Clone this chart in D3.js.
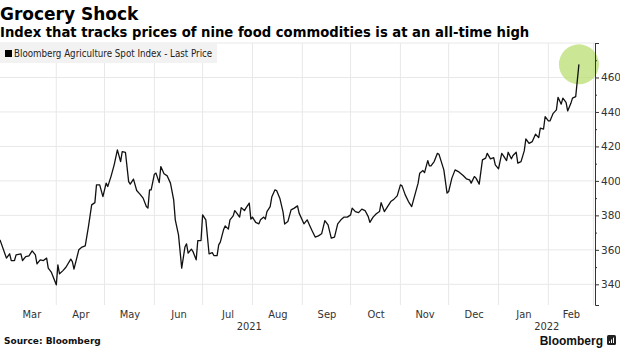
<!DOCTYPE html>
<html>
<head>
<meta charset="utf-8">
<script src="https://cdn.jsdelivr.net/npm/d3@7"></script>
<style>
  body { margin: 0; background: #fff; }
  svg { display: block; }
  .title { font-family: 'DejaVu Sans', sans-serif; font-weight: bold; fill: #000; }
  .axis text { font-family: 'DejaVu Sans Condensed', 'DejaVu Sans', sans-serif; fill: #333; }
  .grid line { stroke: #e8e8e8; stroke-width: 1; }
</style>
</head>
<body>
<div id="chart"></div>
<script>
// Bloomberg Agriculture Spot Index, last price
const dates = [
  '2021-02-25', '2021-03-01', '2021-03-03', '2021-03-04', '2021-03-06', '2021-03-07', '2021-03-10', '2021-03-11',
  '2021-03-13', '2021-03-15', '2021-03-17', '2021-03-19', '2021-03-20', '2021-03-22', '2021-03-24', '2021-03-26',
  '2021-03-27', '2021-03-29', '2021-04-01', '2021-04-02', '2021-04-03', '2021-04-05', '2021-04-07', '2021-04-10',
  '2021-04-11', '2021-04-12', '2021-04-15', '2021-04-17', '2021-04-19', '2021-04-21', '2021-04-23', '2021-04-25',
  '2021-04-26', '2021-04-28', '2021-04-30', '2021-05-02', '2021-05-03', '2021-05-05', '2021-05-07', '2021-05-09',
  '2021-05-11', '2021-05-12', '2021-05-14', '2021-05-16', '2021-05-17', '2021-05-19', '2021-05-21', '2021-05-23',
  '2021-05-25', '2021-05-27', '2021-05-28', '2021-05-29', '2021-05-30', '2021-06-01', '2021-06-02', '2021-06-04',
  '2021-06-05', '2021-06-07', '2021-06-09', '2021-06-11', '2021-06-13', '2021-06-14', '2021-06-16', '2021-06-18',
  '2021-06-20', '2021-06-21', '2021-06-22', '2021-06-24', '2021-06-25', '2021-06-27', '2021-06-28', '2021-06-30',
  '2021-07-01', '2021-07-03', '2021-07-05', '2021-07-07', '2021-07-08', '2021-07-10', '2021-07-11', '2021-07-12',
  '2021-07-14', '2021-07-15', '2021-07-17', '2021-07-18', '2021-07-20', '2021-07-21', '2021-07-22', '2021-07-24',
  '2021-07-25', '2021-07-27', '2021-07-28', '2021-07-30', '2021-07-31', '2021-08-01', '2021-08-03', '2021-08-05',
  '2021-08-06', '2021-08-08', '2021-08-09', '2021-08-10', '2021-08-12', '2021-08-13', '2021-08-15', '2021-08-16',
  '2021-08-18', '2021-08-20', '2021-08-21', '2021-08-23', '2021-08-25', '2021-08-27', '2021-08-29', '2021-08-30',
  '2021-09-02', '2021-09-04', '2021-09-06', '2021-09-07', '2021-09-09', '2021-09-11', '2021-09-13', '2021-09-15',
  '2021-09-17', '2021-09-19', '2021-09-21', '2021-09-23', '2021-09-25', '2021-09-27', '2021-09-29', '2021-10-01',
  '2021-10-02', '2021-10-04', '2021-10-06', '2021-10-08', '2021-10-10', '2021-10-12', '2021-10-13', '2021-10-15',
  '2021-10-17', '2021-10-19', '2021-10-20', '2021-10-22', '2021-10-24', '2021-10-26', '2021-10-28', '2021-10-30',
  '2021-11-01', '2021-11-02', '2021-11-04', '2021-11-06', '2021-11-08', '2021-11-10', '2021-11-12', '2021-11-13',
  '2021-11-15', '2021-11-16', '2021-11-18', '2021-11-19', '2021-11-20', '2021-11-22', '2021-11-24', '2021-11-25',
  '2021-11-28', '2021-11-30', '2021-12-01', '2021-12-03', '2021-12-05', '2021-12-07', '2021-12-10', '2021-12-12',
  '2021-12-14', '2021-12-15', '2021-12-17', '2021-12-18', '2021-12-20', '2021-12-22', '2021-12-24', '2021-12-25',
  '2021-12-27', '2021-12-29', '2021-12-30', '2022-01-01', '2022-01-03', '2022-01-04', '2022-01-06', '2022-01-07',
  '2022-01-09', '2022-01-10', '2022-01-12', '2022-01-13', '2022-01-15', '2022-01-17', '2022-01-18', '2022-01-20',
  '2022-01-22', '2022-01-24', '2022-01-26', '2022-01-27', '2022-01-29', '2022-01-30', '2022-02-01', '2022-02-02',
  '2022-02-04', '2022-02-06', '2022-02-07', '2022-02-09', '2022-02-10', '2022-02-12', '2022-02-13', '2022-02-15',
  '2022-02-16', '2022-02-18', '2022-02-20',
];
const prices = [
  365.8, 355.2, 357.7, 353.8, 353.8, 357.1, 357.7, 353.8,
  356.1, 356.5, 359.4, 357.1, 351.9, 354.2, 353.8, 355.2,
  349.4, 346.9, 339.7, 351.3, 346.1, 347.8, 349.9, 354.6,
  353.2, 348.8, 360.0, 361.6, 362.3, 373.5, 386.1, 387.4,
  397.7, 397.7, 390.9, 398.7, 396.7, 402.5, 409.3, 418.0,
  411.2, 417.0, 416.6, 399.6, 398.1, 401.0, 394.4, 392.3,
  390.0, 385.1, 384.2, 394.8, 394.8, 403.9, 404.5, 399.0,
  408.3, 404.1, 402.9, 398.7, 389.0, 377.4, 368.7, 349.4,
  361.6, 363.5, 358.1, 360.4, 359.0, 354.2, 365.4, 365.4,
  380.3, 377.4, 357.7, 358.4, 356.7, 356.7, 362.9, 364.5,
  371.6, 373.9, 372.0, 377.4, 379.7, 382.8, 381.6, 379.0,
  384.5, 382.8, 384.3, 387.1, 377.8, 379.0, 375.9, 375.1,
  377.4, 379.0, 377.8, 382.2, 385.1, 390.6, 394.8, 394.4,
  390.0, 382.0, 375.0, 376.4, 383.2, 384.2, 385.5, 381.3,
  375.1, 377.4, 373.2, 371.2, 367.4, 368.1, 369.3, 377.0,
  374.5, 366.8, 367.4, 375.1, 377.4, 379.0, 379.0, 380.3,
  384.2, 382.2, 381.6, 383.6, 382.8, 379.3, 375.9, 379.0,
  380.9, 382.2, 387.4, 382.2, 385.1, 388.0, 389.4, 391.3,
  397.7, 397.1, 391.9, 388.0, 385.1, 391.9, 398.7, 404.5,
  406.0, 404.8, 411.8, 408.7, 408.7, 411.2, 416.0, 415.4,
  406.4, 392.9, 393.8, 401.6, 406.4, 405.4, 403.1, 401.2,
  400.6, 398.7, 402.5, 401.6, 398.1, 412.2, 413.2, 416.0,
  412.8, 413.5, 409.3, 407.0, 416.0, 414.7, 411.8, 416.6,
  412.8, 414.7, 416.6, 410.3, 411.2, 417.4, 424.3, 421.8,
  422.8, 427.1, 425.1, 430.6, 430.1, 437.3, 434.8, 434.8,
  439.2, 441.2, 448.5, 444.5, 448.0, 445.6, 440.6, 445.0,
  448.0, 448.9, 467.6,
];

const yTicks = [340, 360, 380, 400, 420, 440, 460, 480];
const yMinorTicks = [350, 370, 390, 410, 430, 450, 470];
const monthStarts = ['2021-03-01', '2021-04-01', '2021-05-01', '2021-06-01', '2021-07-01', '2021-08-01',
  '2021-09-01', '2021-10-01', '2021-11-01', '2021-12-01', '2022-01-01', '2022-02-01', '2022-03-01'];
const monthLabels = ['Mar', 'Apr', 'May', 'Jun', 'Jul', 'Aug', 'Sep', 'Oct', 'Nov', 'Dec', 'Jan', 'Feb'];
const yearLabels = ['2021', '2022'];

const parseTime = d3.timeParse('%Y-%m-%d');

const config = {
  containerWidth: 620,
  containerHeight: 348,
  margin: {
    top: 43, right: 25, bottom: 43, left: 0,
  },
};

const width = config.containerWidth - config.margin.left - config.margin.right;
const height = config.containerHeight - config.margin.top - config.margin.bottom;

const data = dates.map((d, i) => ({ date: parseTime(d), value: prices[i] }));
const months = monthStarts.map(parseTime);

const svg = d3.select('#chart').append('svg')
  .attr('width', config.containerWidth)
  .attr('height', config.containerHeight);

// Titles
svg.append('text')
  .attr('class', 'title')
  .attr('x', 0)
  .attr('y', 20)
  .style('font-size', '17px')
  .text('Grocery Shock');

svg.append('text')
  .attr('class', 'title')
  .attr('x', 0)
  .attr('y', 37)
  .style('font-size', '13.2px')
  .text('Index that tracks prices of nine food commodities is at an all-time high');

const chartArea = svg.append('g')
  .attr('transform', `translate(${config.margin.left},${config.margin.top})`);

const xScale = d3.scaleTime()
  .domain([parseTime('2021-02-25'), parseTime('2022-03-02')])
  .range([0, width]);

const yScale = d3.scaleLinear()
  .domain([328, 480])
  .range([height, 0]);

// Gridlines
chartArea.append('g')
  .attr('class', 'grid')
  .selectAll('line')
  .data(yTicks)
  .join('line')
  .attr('x1', 0)
  .attr('x2', width)
  .attr('y1', (d) => yScale(d))
  .attr('y2', (d) => yScale(d));

chartArea.append('g')
  .attr('class', 'grid')
  .selectAll('line')
  .data(months.slice(1))
  .join('line')
  .attr('x1', (d) => xScale(d))
  .attr('x2', (d) => xScale(d))
  .attr('y1', 0)
  .attr('y2', height);

// Legend
const legend = chartArea.append('g');
legend.append('rect')
  .attr('x', 0)
  .attr('y', 0)
  .attr('width', 217)
  .attr('height', 20)
  .attr('fill', '#f2f2f2');
legend.append('rect')
  .attr('x', 5)
  .attr('y', 7)
  .attr('width', 7)
  .attr('height', 7)
  .attr('fill', '#000');
legend.append('text')
  .attr('x', 14)
  .attr('y', 14)
  .style('font-family', "'DejaVu Sans Condensed', 'DejaVu Sans', sans-serif")
  .style('font-size', '9.7px')
  .attr('fill', '#222')
  .text('Bloomberg Agriculture Spot Index - Last Price');

// Highlight circle at the latest price
const last = data[data.length - 1];
chartArea.append('circle')
  .attr('cx', xScale(last.date))
  .attr('cy', yScale(last.value))
  .attr('r', 20)
  .attr('fill', '#b9dd72')
  .attr('fill-opacity', 0.75);

// Line
const line = d3.line()
  .x((d) => xScale(d.date))
  .y((d) => yScale(d.value));

chartArea.append('path')
  .datum(data)
  .attr('fill', 'none')
  .attr('stroke', '#111')
  .attr('stroke-width', 1.3)
  .attr('stroke-linejoin', 'round')
  .attr('d', line);

// Y axis on the right
const yAxis = d3.axisRight(yScale)
  .tickValues(yTicks)
  .tickSize(4)
  .tickPadding(2)
  .tickFormat((d) => (d === 480 ? '' : d));

const yAxisG = chartArea.append('g')
  .attr('class', 'axis')
  .attr('transform', `translate(${width},0)`)
  .call(yAxis);
yAxisG.select('.domain').attr('stroke', '#333');
yAxisG.selectAll('.tick line').attr('stroke', '#333');
yAxisG.selectAll('text')
  .style('font-family', "'DejaVu Sans', sans-serif")
  .style('font-size', '10.5px');

const yMinorAxis = d3.axisRight(yScale)
  .tickValues(yMinorTicks)
  .tickSize(2)
  .tickFormat('');

chartArea.append('g')
  .attr('transform', `translate(${width},0)`)
  .call(yMinorAxis)
  .call((g) => g.select('.domain').remove())
  .selectAll('.tick line')
  .attr('stroke', '#333');

// X axis: month labels centred in each month
const monthMids = months.slice(0, -1).map((m, i) => new Date((m.getTime() + months[i + 1].getTime()) / 2));

const xAxis = d3.axisBottom(xScale)
  .tickValues(monthMids)
  .tickSize(0)
  .tickPadding(5)
  .tickFormat((d, i) => monthLabels[i]);

const xAxisG = chartArea.append('g')
  .attr('class', 'axis')
  .attr('transform', `translate(0,${height})`)
  .call(xAxis);
xAxisG.select('.domain').remove();
xAxisG.selectAll('text').style('font-size', '11px');

// Year labels centred on the visible part of each year
const yearBreak = xScale(parseTime('2022-01-01'));
const yearCentres = [yearBreak / 2, (yearBreak + width) / 2];

chartArea.append('g')
  .attr('class', 'axis')
  .selectAll('text')
  .data(yearLabels)
  .join('text')
  .attr('x', (d, i) => yearCentres[i])
  .attr('y', height + 25)
  .attr('text-anchor', 'middle')
  .style('font-size', '11px')
  .text((d) => d);

// Footer
svg.append('text')
  .attr('x', 4)
  .attr('y', 344)
  .style('font-family', "'DejaVu Sans', sans-serif")
  .style('font-weight', 'bold')
  .style('font-size', '9px')
  .attr('fill', '#111')
  .text('Source: Bloomberg');

svg.append('text')
  .attr('x', 603)
  .attr('y', 345)
  .attr('text-anchor', 'end')
  .style('font-family', "'Liberation Sans', sans-serif")
  .style('font-weight', 'bold')
  .style('font-size', '12px')
  .attr('fill', '#111')
  .text('Bloomberg');

const logo = svg.append('g').attr('transform', 'translate(607,335)');
logo.append('rect')
  .attr('width', 9)
  .attr('height', 10)
  .attr('rx', 1.5)
  .attr('fill', '#222');
logo.selectAll('line.bar')
  .data([2.5, 4.5, 6.5])
  .join('line')
  .attr('x1', (d) => d)
  .attr('x2', (d) => d)
  .attr('y1', (d, i) => 8 - (i + 1) * 1.8)
  .attr('y2', 8)
  .attr('stroke', '#fff')
  .attr('stroke-width', 1);
</script>
</body>
</html>
